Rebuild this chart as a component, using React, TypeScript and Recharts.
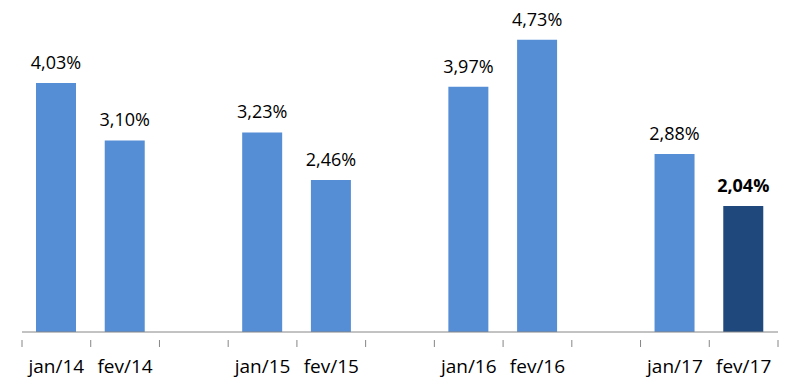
import { BarChart, Bar, XAxis, YAxis, Cell, LabelList } from "recharts";

const months = ["jan/14", "fev/14", "", "jan/15", "fev/15", "", "jan/16", "fev/16", "", "jan/17", "fev/17"];
const rates = [4.03, 3.1, null, 3.23, 2.46, null, 3.97, 4.73, null, 2.88, 2.04];

const data = months.map((m, i) => ({ month: m, rate: rates[i] }));

const W = 800;
const H = 385;
const LEFT = 22;
const RIGHT = 22;
const step = (W - LEFT - RIGHT) / months.length;
const FONT = "'Open Sans', sans-serif";
const lastRate = rates[rates.length - 1];

const fmt = (v: number) => v.toFixed(2).replace(".", ",") + "%";

const Tick = (props: any) => {
  const { x, y, payload, index } = props;
  const isLast = index === months.length - 1;
  return (
    <g>
      <line x1={x - step / 2} x2={x - step / 2} y1={y} y2={y + 7} stroke="#868686" />
      {isLast && <line x1={x + step / 2} x2={x + step / 2} y1={y} y2={y + 7} stroke="#868686" />}
      <text x={x} y={y + 33} textAnchor="middle" fontSize={19} fontFamily={FONT} fill="#000">
        {payload.value}
      </text>
    </g>
  );
};

const Label = (props: any) => {
  const { x, y, width, value } = props;
  if (value == null) return null;
  const bold = value === lastRate;
  return (
    <text
      x={x + width / 2}
      y={y - 14}
      textAnchor="middle"
      fontSize={18}
      fontFamily={FONT}
      fontWeight={bold ? "bold" : "normal"}
      fill="#000"
    >
      {fmt(value)}
    </text>
  );
};

export default function App() {
  return (
    <div style={{ position: "absolute", left: 0, top: 0, width: W, height: H, background: "#fff" }}>
      <BarChart width={W} height={H} data={data} margin={{ top: 23, right: RIGHT, bottom: 0, left: LEFT }}>
        <XAxis
          dataKey="month"
          height={53}
          interval={0}
          tickLine={false}
          axisLine={{ stroke: "#868686" }}
          tick={<Tick />}
        />
        <YAxis hide domain={[0, 5]} />
        <Bar dataKey="rate" barSize={40} isAnimationActive={false}>
          {data.map((d, i) => (
            <Cell key={i} fill={i === months.length - 1 ? "#1F497D" : "#558ED5"} />
          ))}
          <LabelList dataKey="rate" content={<Label />} />
        </Bar>
      </BarChart>
    </div>
  );
}
